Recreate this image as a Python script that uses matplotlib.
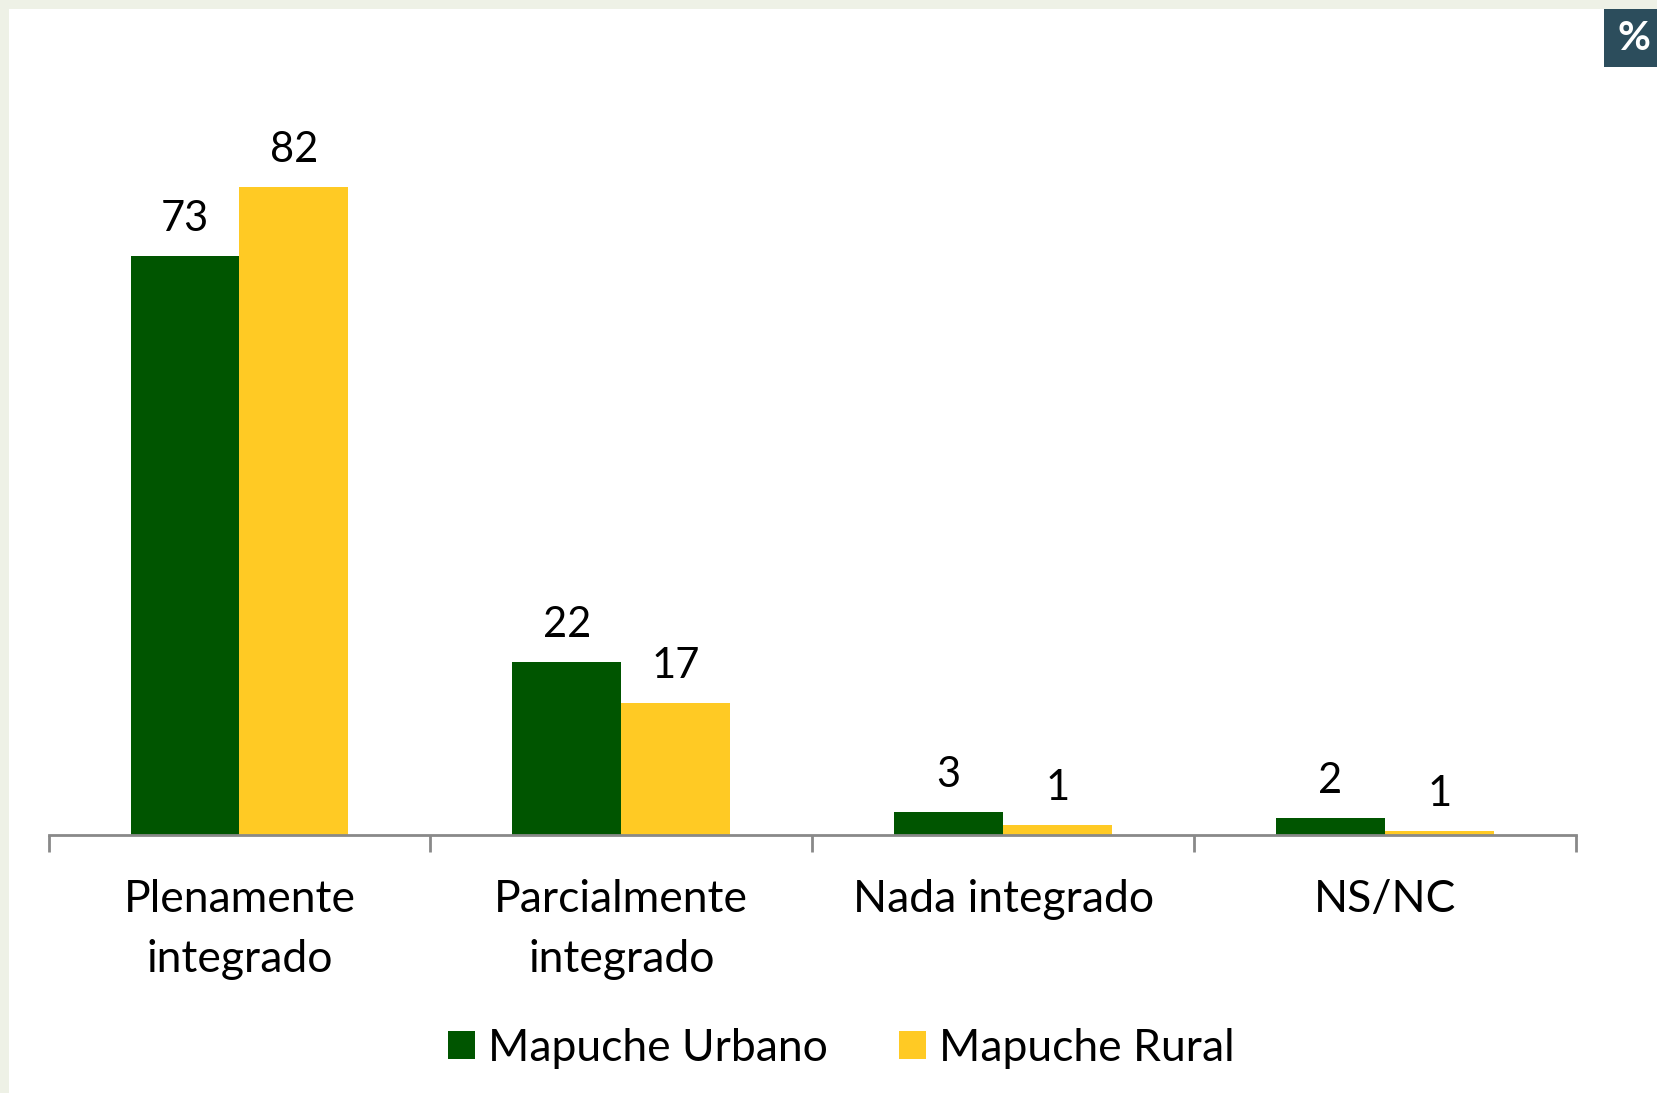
import matplotlib.pyplot as plt
import numpy as np
from matplotlib.patches import Rectangle

categories = ["Plenamente\nintegrado", "Parcialmente\nintegrado", "Nada integrado", "NS/NC"]
series_names = ["Mapuche Urbano", "Mapuche Rural"]
# bar heights as drawn, labels as printed (rounded)
urbano = [73.3, 21.9, 2.9, 2.1]
rural = [82, 16.7, 1.3, 0.5]
urbano_labels = ["73", "22", "3", "2"]
rural_labels = ["82", "17", "1", "1"]
colors = ["#005500", "#FFCA24"]

plt.rcParams['font.family'] = ['Lato', 'DejaVu Sans']

fig = plt.figure(figsize=(16.57, 10.93), dpi=100)
fig.patch.set_facecolor("#EEF1E6")
# white slide area inside the patterned border
fig.patches.append(Rectangle((9 / 1657, 0), 1, 1 - 9 / 1093, transform=fig.transFigure,
                             facecolor="white", edgecolor="none", zorder=-5))

ax = fig.add_axes([0.0293, 0.236, 0.9217, 0.6506])
ax.set_zorder(2)
ax.patch.set_alpha(0)

x = np.arange(len(categories))
w = 0.285
b1 = ax.bar(x - w / 2, urbano, w, color=colors[0], label=series_names[0], zorder=2)
b2 = ax.bar(x + w / 2, rural, w, color=colors[1], label=series_names[1], zorder=2)

for bars, labels in ((b1, urbano_labels), (b2, rural_labels)):
    for r, lab in zip(bars, labels):
        ax.annotate(lab, (r.get_x() + r.get_width() / 2, r.get_height()),
                    xytext=(0, 13), textcoords="offset points", ha="center", va="bottom",
                    fontsize=30)

ax.set_xlim(-0.5, len(categories) - 0.5)
ax.set_ylim(0, 90)
ax.set_yticks([])
for s in ["left", "right", "top"]:
    ax.spines[s].set_visible(False)
ax.spines["bottom"].set_color("#898989")
ax.spines["bottom"].set_linewidth(2)

ax.set_xticks(x)
ax.set_xticklabels(categories, fontsize=32, linespacing=1.55)
ax.tick_params(axis="x", which="major", length=0, pad=32)
ax.set_xticks(np.arange(-0.5, len(categories)), minor=True)
ax.tick_params(axis="x", which="minor", length=12, width=2, color="#898989")

leg = fig.legend(loc="center", bbox_to_anchor=(0.508, 0.041), ncol=2, frameon=False,
                 fontsize=32, handlelength=0.6, handleheight=0.6, handletextpad=0.3,
                 columnspacing=1.6)

# "%" badge in the top-right corner
fig.patches.append(Rectangle((1604 / 1657, 1 - 67 / 1093), 60 / 1657, 58 / 1093,
                             transform=fig.transFigure, facecolor="#2C4D5C",
                             edgecolor="none", zorder=3))
fig.text(1634 / 1657, 1 - 38 / 1093, "%", color="white", fontsize=29, fontweight="bold",
         ha="center", va="center", zorder=4)

fig.savefig("out.png", dpi=100, facecolor=fig.get_facecolor())
